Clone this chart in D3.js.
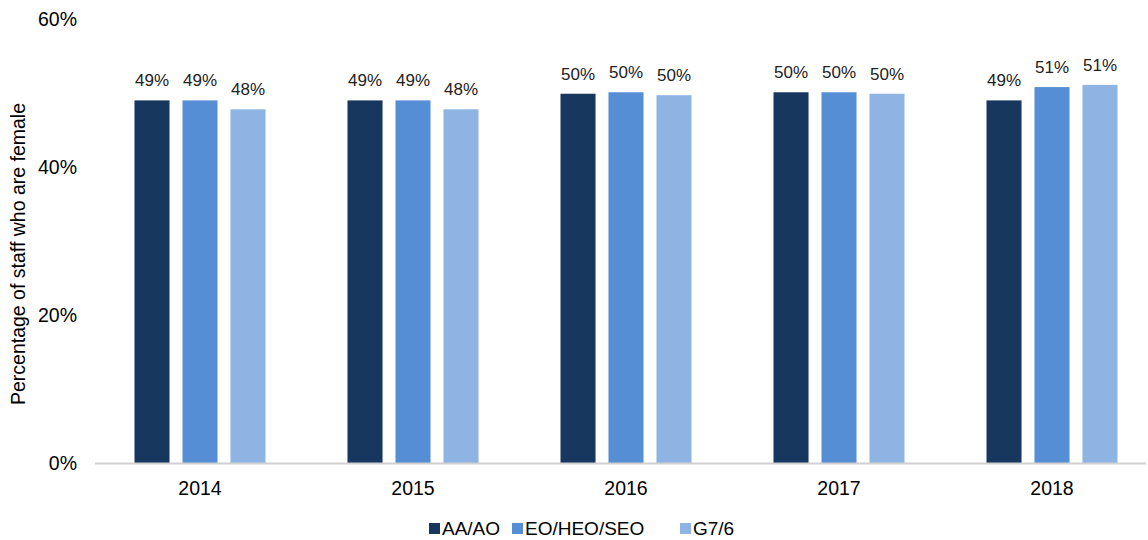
<!DOCTYPE html>
<html><head><meta charset="utf-8">
<script src="https://cdn.jsdelivr.net/npm/d3@7"></script>
<style>body{margin:0;background:#fff;}svg{display:block;font-family:"Liberation Sans",Arial,sans-serif;}</style>
</head><body><svg id="c" width="1148" height="540"></svg>
<script>
const years = ["2014","2015","2016","2017","2018"];
const seriesNames = ["AA/AO","EO/HEO/SEO","G7/6"];
const aaao = [49.0,49.0,49.9,50.1,49.0];
const eoheoseo = [49.0,49.0,50.1,50.1,50.8];
const g76 = [47.8,47.8,49.7,49.9,51.1];
const yTicks = [0,20,40,60];
const colors = ["#17375e","#558ed5","#8eb4e3"];
const seriesValues = [aaao,eoheoseo,g76];

const svg = d3.select("#c");
const x = d3.scaleBand().domain(years).range([93.5,1158.5]).padding(0);
const xs = d3.scaleBand().domain(seriesNames).range([-65.5,65.5]).paddingInner(0.27);
const y = d3.scaleLinear().domain([0,60]).range([463,19]);

// y tick labels
svg.append("g").selectAll("text").data(yTicks).join("text")
  .attr("x",77).attr("y",d=>y(d)).attr("dy","0.35em").attr("text-anchor","end")
  .attr("font-size",19.5).attr("fill","#000").text(d=>d+"%");

// bars
seriesNames.forEach((s,si)=>{
  const g = svg.append("g");
  g.selectAll("rect").data(years).join("rect")
    .attr("x",(d)=>x(d)+x.bandwidth()/2+xs(s))
    .attr("width",xs.bandwidth())
    .attr("y",(d,i)=>y(seriesValues[si][i]))
    .attr("height",(d,i)=>y(0)-y(seriesValues[si][i]))
    .attr("fill",colors[si]);
  g.selectAll("text").data(years).join("text")
    .attr("x",(d)=>x(d)+x.bandwidth()/2+xs(s)+xs.bandwidth()/2)
    .attr("y",(d,i)=>y(seriesValues[si][i])-14)
    .attr("text-anchor","middle").attr("font-size",17).attr("fill","#222")
    .text((d,i)=>Math.round(seriesValues[si][i])+"%");
});

// x axis line
svg.append("line").attr("x1",95).attr("x2",1146).attr("y1",y(0)+0.5).attr("y2",y(0)+0.5)
  .attr("stroke","#d0d0d0").attr("stroke-width",2);
svg.append("g").selectAll("text").data(years).join("text")
  .attr("x",d=>x(d)+x.bandwidth()/2).attr("y",495).attr("text-anchor","middle")
  .attr("font-size",19.5).attr("fill","#000").text(d=>d);

// y title
svg.append("text").attr("transform","translate(25,254) rotate(-90)")
  .attr("text-anchor","middle").attr("font-size",19.5).attr("fill","#000")
  .text("Percentage of staff who are female");

// legend
const legX = [429,512,680];
const leg = svg.append("g");
seriesNames.forEach((s,i)=>{
  leg.append("rect").attr("x",legX[i]).attr("y",523).attr("width",11).attr("height",11).attr("fill",colors[i]);
  leg.append("text").attr("x",legX[i]+13).attr("y",535).attr("font-size",19).attr("fill","#000").text(s);
});
</script></body></html>
